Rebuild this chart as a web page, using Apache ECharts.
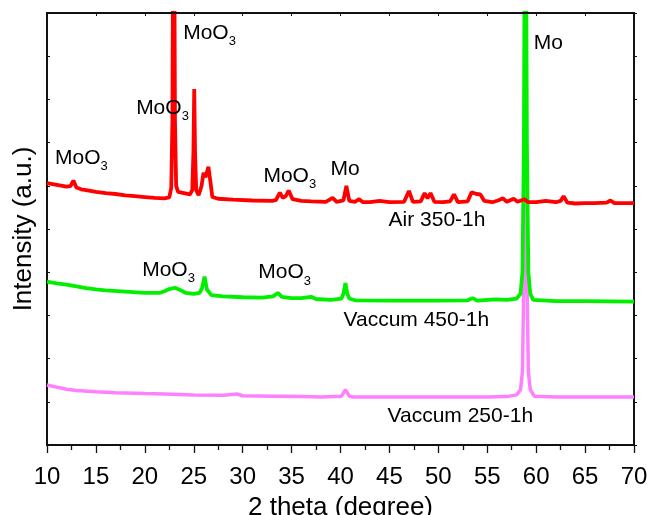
<!DOCTYPE html>
<html>
<head>
<meta charset="utf-8">
<script src="https://cdn.jsdelivr.net/npm/echarts@6/dist/echarts.min.js"></script>
<style>html,body{margin:0;padding:0;background:#fff;}#c{width:651px;height:515px;}</style>
</head>
<body>
<div id="c"></div>
<script>
// 2θ (degree), intensity (a.u., offset per pattern)
const redData = [
 [10,60.6],[11,60.2],[12,59.8],[12.4,59.9],[12.7,61.2],[13.0,59.6],[13.5,59.2],[14,59.0],[15,58.6],[16,58.3],[17,58.1],[18,57.8],[19,57.6],[20,57.4],[21,57.2],[22,57.1],[22.5,57.3],
 [22.7,59.5],[22.82,75],[22.95,150],[23.08,75],[23.2,60],[23.4,58.6],[24.0,58.3],[24.6,58.0],[24.85,59],[24.97,68],[25.05,82.4],[25.13,68],[25.25,59],[25.5,57.8],
 [25.8,60],[26.0,63.0],[26.2,62.0],[26.5,64.4],[26.7,61],[26.9,57.4],[27.5,57.0],[29,56.8],[31,56.6],[33,56.5],[33.4,56.7],[33.8,58.4],[34.1,57.2],[34.4,57.6],[34.7,58.9],[35.1,56.9],[36,56.5],[37,56.4],
 [38.5,56.3],[39.2,57.2],[39.6,56.3],[40.3,56.6],[40.6,60.0],[40.9,56.5],[41.5,56.3],[41.9,56.9],[42.3,56.2],[43,56.2],[44,56.5],[45,56.2],[46.5,56.3],[47.0,58.8],[47.4,56.3],[48.2,56.4],[48.6,58.3],[48.9,57.1],[49.2,58.3],[49.6,56.3],
 [50.5,56.2],[51.2,56.4],[51.6,58.0],[52.0,56.2],[53.0,56.4],[53.4,58.5],[53.9,58.1],[54.3,58.0],[54.7,56.5],[55.5,56.2],[56.1,56.6],[56.6,57.1],[57.0,56.3],[57.7,57.0],[58.1,56.3],[58.8,56.9],[59.2,56.2],
 [60,56.2],[61,56.5],[62,56.2],[62.5,56.5],[62.8,57.6],[63.2,56.1],[64,55.9],[65,56.0],[66,56.0],[67.2,56.1],[67.6,56.6],[68,56.0],[70,56.0]
];
const greenData = [
 [10,37.8],[11,37.4],[12,37.1],[13,36.7],[14,36.3],[15,36.0],[16,35.8],[18,35.5],[20,35.2],[21.5,35.2],[22,35.6],[22.5,36.1],[23.1,36.4],[23.6,35.9],[24.2,35.2],[25,35.0],[25.6,35.2],
 [25.85,36.3],[26.1,39.0],[26.35,36.0],[26.8,34.7],[28,34.4],[30,34.2],[32,34.1],[33.1,34.4],[33.6,35.2],[34.0,34.3],[35,34.0],[36,34.0],[37,34.3],[37.5,33.8],[39,33.6],
 [40.1,33.9],[40.3,35],[40.5,37.5],[40.7,35],[40.9,33.9],[41.5,33.5],[45,33.4],[50,33.4],[53.0,33.5],[53.5,34.0],[54,33.4],[55.8,33.7],[57,33.6],[58.0,33.9],
 [58.4,35.0],[58.6,40],[58.75,70],[58.9,160],[59.05,70],[59.2,40],[59.4,35.0],[59.7,33.6],[62,33.3],[65,33.3],[70,33.2]
];
const pinkData = [
 [10,13.9],[11,13.4],[12,12.9],[13,12.6],[15,12.3],[17,12.1],[20,11.9],[22,11.8],[25,11.6],[28,11.5],[29.4,11.8],[30,11.4],[33,11.3],[36,11.2],[38,11.1],
 [40.1,11.3],[40.5,12.8],[40.9,11.3],[41.3,11.1],[45,11.1],[50,11.1],[55,11.1],[57,11.2],[58.0,11.6],
 [58.4,12.8],[58.6,17],[58.75,40],[58.9,150],[59.05,40],[59.2,17],[59.4,12.8],[59.8,11.3],[62,11.1],[66,11.1],[70,11.1]
];
const xTicks = [10,15,20,25,30,35,40,45,50,55,60,65,70];
const xMin = 10, xMax = 70, yMax = 100;
// annotation anchors in data space: [2θ, intensity, text, subscript]
const annoX = [23.92, 19.11, 10.82, 32.12, 38.97, 59.76, 44.91, 19.73, 31.6, 40.31, 44.81];
const annoY = [95.4, 78.0, 66.4, 62.3, 63.8, 93.1, 52.1, 40.5, 39.9, 28.9, 6.6];
const annoText = ['MoO','MoO','MoO','MoO','Mo','Mo','Air 350-1h','MoO','MoO','Vaccum 450-1h','Vaccum 250-1h'];
const annoSub = ['3','3','3','3','','','','3','3','',''];

const FONT = 'Liberation Sans, Arial, sans-serif';
const chart = echarts.init(document.getElementById('c'), null, {renderer:'canvas'});
const annoData = annoX.map((x,i)=>({value:[x, annoY[i]], t:annoText[i], s:annoSub[i]}));

chart.setOption({
  animation:false,
  backgroundColor:'#fff',
  grid:{left:47,right:17,top:13,bottom:70,containLabel:false,outerBoundsMode:'none',
        show:true,borderColor:'#111',borderWidth:1.8,backgroundColor:'transparent'},
  xAxis:[{
    type:'value',min:xMin,max:xMax,interval:5,position:'bottom',
    name:'2 theta (degree)',nameLocation:'middle',nameGap:50,
    nameTextStyle:{fontSize:26,color:'#000',fontFamily:FONT},
    axisLine:{show:true,onZero:false,lineStyle:{color:'#111',width:1.8}},
    axisTick:{show:true,inside:false,length:8,lineStyle:{color:'#111',width:1.3}},
    minorTick:{show:true,splitNumber:2,length:5,lineStyle:{color:'#111',width:1.3}},
    axisLabel:{show:true,fontSize:24,color:'#000',fontFamily:FONT,margin:20,
      formatter:v=>xTicks.includes(v)?String(v):''},
    splitLine:{show:false}
  },{
    type:'value',min:xMin,max:xMax,interval:5,position:'top',
    axisLine:{show:true,onZero:false,lineStyle:{color:'#111',width:1.8}},
    axisTick:{show:true,inside:true,length:3,lineStyle:{color:'#111',width:1}},
    axisLabel:{show:false},splitLine:{show:false}
  }],
  yAxis:[{
    type:'value',min:0,max:yMax,interval:10,position:'left',
    name:'Intensity (a.u.)',nameLocation:'middle',nameGap:10,nameRotate:90,
    nameTextStyle:{fontSize:26,color:'#000',fontFamily:FONT},
    axisLine:{show:true,onZero:false,lineStyle:{color:'#111',width:1.8}},
    axisTick:{show:true,inside:true,length:3,lineStyle:{color:'#111',width:1}},
    axisLabel:{show:false},splitLine:{show:false}
  },{
    type:'value',min:0,max:yMax,interval:10,position:'right',
    axisLine:{show:true,onZero:false,lineStyle:{color:'#111',width:1.8}},
    axisTick:{show:true,inside:false,length:3,lineStyle:{color:'#111',width:1}},
    axisLabel:{show:false},splitLine:{show:false}
  }],
  series:[
    {name:'Vaccum 250-1h',type:'line',data:pinkData,showSymbol:false,symbol:'none',
     lineStyle:{color:'#ff80ff',width:3.5},itemStyle:{color:'#ff80ff'},z:2},
    {name:'Vaccum 450-1h',type:'line',data:greenData,showSymbol:false,symbol:'none',
     lineStyle:{color:'#00f000',width:3.8},itemStyle:{color:'#00f000'},z:3},
    {name:'Air 350-1h',type:'line',data:redData,showSymbol:false,symbol:'none',
     lineStyle:{color:'#ff0000',width:3.8},itemStyle:{color:'#ff0000'},z:4,
     markLine:{silent:true,symbol:'none',label:{show:false},
       lineStyle:{color:'#111',type:'solid',width:1.8},
       data:[{yAxis:yMax}]}},
    {name:'labels',type:'scatter',data:annoData,symbolSize:0,z:10,silent:true,
     itemStyle:{opacity:1,color:'#000'},
     label:{show:true,position:'right',distance:0,color:'#000',opacity:1,
       formatter:p=>'{m|'+p.data.t+'}'+(p.data.s?'{s|'+p.data.s+'}':''),
       rich:{
         m:{fontSize:21,lineHeight:30,color:'#000',fontFamily:FONT},
         s:{fontSize:13,lineHeight:12,verticalAlign:'bottom',color:'#000',fontFamily:FONT}
       }}}
  ]
});
// top frame edge, placed through the axes' own scales
const pA = chart.convertToPixel({xAxisIndex:0,yAxisIndex:0},[xMin,yMax]);
const pB = chart.convertToPixel({xAxisIndex:0,yAxisIndex:0},[xMax,yMax]);
chart.setOption({graphic:[{type:'line',silent:true,z:100,
  shape:{x1:pA[0],y1:pA[1],x2:pB[0],y2:pB[1]},
  style:{stroke:'#111',lineWidth:1.8}}]});
</script>
</body>
</html>
